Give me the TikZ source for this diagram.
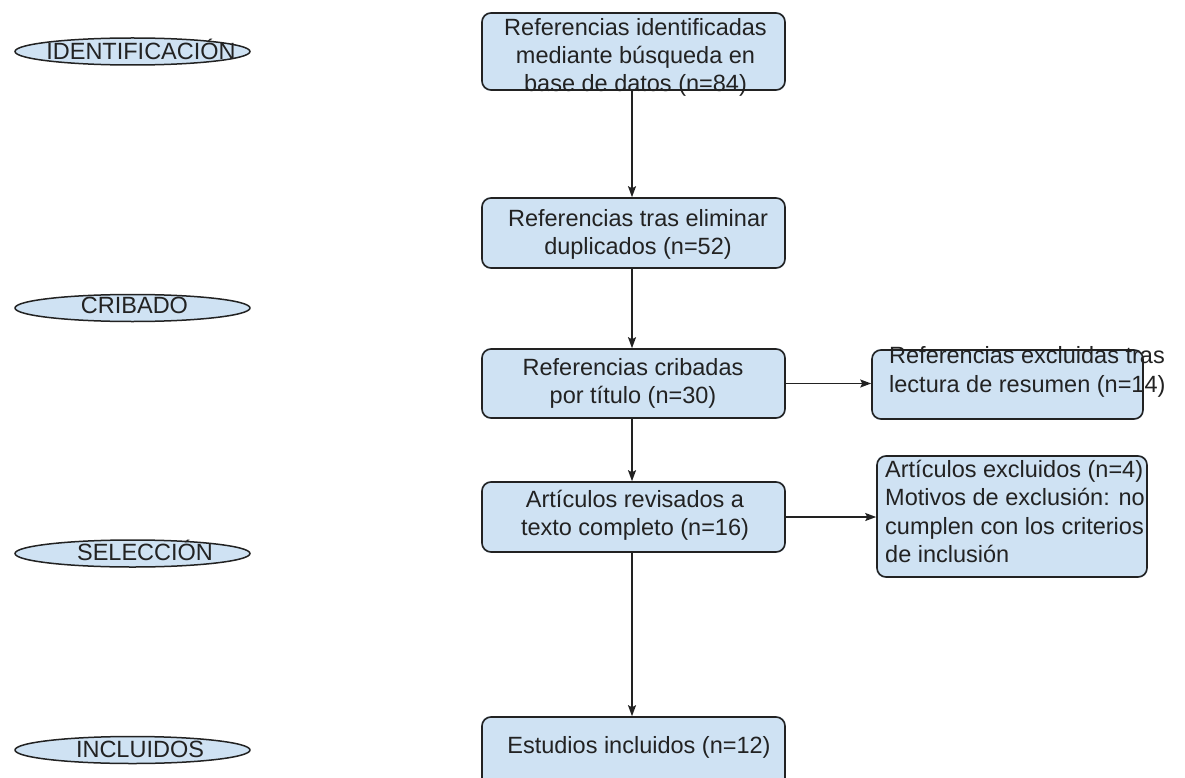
\documentclass[tikz,border=0pt]{standalone}
\usepackage{fontspec}
\setmainfont{Liberation Sans}
\usetikzlibrary{shapes.geometric,arrows.meta}
\definecolor{boxfill}{HTML}{CFE2F3}
\definecolor{ink}{HTML}{222222}
\pgfdeclarelayer{bg}
\pgfdeclarelayer{words}
\pgfsetlayers{bg,words,main}
\begin{document}
\begin{tikzpicture}[x=1pt,y=-1pt,
  box/.style={draw=ink, line width=1.6pt, rounded corners=9pt, inner sep=0pt, minimum width=303pt},
  sidebox/.style={draw=ink, line width=1.6pt, rounded corners=9pt, inner sep=0pt},
  boxbg/.style={fill=boxfill, rounded corners=9pt},
  phase/.style={ellipse, draw=ink, line width=1.5pt, fill=boxfill, minimum width=235pt, minimum height=27pt, inner sep=0pt},
  txt/.style={text=ink, font=\fontsize{23.5}{28}\selectfont, inner sep=0pt, align=center},
  ltxt/.style={text=ink, font=\fontsize{23.5}{28.3}\selectfont, inner sep=0pt, align=left},
  arr/.style={draw=ink, line width=1.5pt, -{Stealth[length=11pt,width=8pt,inset=2pt]}}
]
\clip (0,0) rectangle (1185,778);
\begin{pgfonlayer}{bg}
  \fill[white] (0,0) rectangle (1185,778);
\end{pgfonlayer}

% phase ellipses
\node[phase] (e1) at (132.5,51.5) {};
\node[phase] (e2) at (132.5,308) {};
\node[phase] (e3) at (132.5,553.5) {};
\node[phase] (e4) at (132.5,750) {};
\node[txt, anchor=base] (l1) at (141,59.5) {IDENTIFICACIÓN};
\node[txt, anchor=base] (l2) at (134.5,313.5) {CRIBADO};
\node[txt, anchor=base] (l3) at (145,560.5) {SELECCIÓN};
\node[txt, anchor=base] (l4) at (140,757.5) {INCLUIDOS};

% boxes (borders)
\node[box, minimum height=77pt] (b1) at (633.5,51.5) {};
\node[box, minimum height=70pt] (b2) at (633.5,233) {};
\node[box, minimum height=69pt] (b3) at (633.5,383.5) {};
\node[box, minimum height=70pt] (b4) at (633.5,517) {};
\node[box, minimum height=70pt] (b5) at (633.5,752) {};
\node[sidebox, minimum width=271pt, minimum height=69pt] (rA) at (1007.5,384.5) {};
\node[sidebox, minimum width=270pt, minimum height=121pt] (rB) at (1012,516.5) {};

\begin{pgfonlayer}{bg}
  \foreach \b in {b1,b2,b3,b4,b5,rA,rB}
    \fill[boxbg] (\b.north west) rectangle (\b.south east);
\end{pgfonlayer}

\begin{pgfonlayer}{words}
  \node[txt, anchor=base] (t1) at (635.5,91.5) {Referencias identificadas\\mediante búsqueda en\\base de datos (n=84)};
  \node[txt, anchor=base] (t2) at (638,254) {Referencias tras eliminar\\duplicados (n=52)};
  \node[txt, anchor=base] (t3) at (633,403) {Referencias cribadas\\por título (n=30)};
  \node[txt, anchor=base] (t4) at (635,535) {Artículos revisados a\\texto completo (n=16)};
  \node[txt, anchor=base] (t5) at (639,753) {Estudios incluidos (n=12)};
  \node[ltxt, anchor=base west] (tA) at (889,392) {Referencias excluidas tras\\lectura de resumen (n=14)};
  \node[ltxt, anchor=base west] (tB) at (885,562.5) {Artículos excluidos (n=4)\\Motivos de exclusión: no\\cumplen con los criterios\\de inclusión};
\end{pgfonlayer}

% connectors
\draw[arr] ([xshift=-1.5pt]b1.south) -- ([xshift=-1.5pt]b2.north);
\draw[arr] ([xshift=-1.5pt]b2.south) -- ([xshift=-1.5pt]b3.north);
\draw[arr] ([xshift=-1.5pt]b3.south) -- ([xshift=-1.5pt]b4.north);
\draw[arr] ([xshift=-1.5pt]b4.south) -- ([xshift=-1.5pt]b5.north);
\draw[arr] (b3.east) -- (b3.east -| rA.west);
\draw[arr] (b4.east) -- (b4.east -| rB.west);
\end{tikzpicture}
\end{document}
